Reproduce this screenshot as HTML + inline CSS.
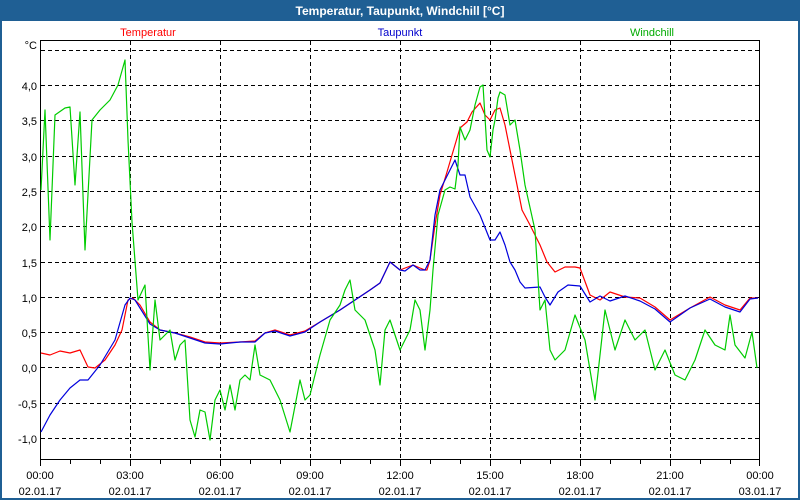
<!DOCTYPE html>
<html><head><meta charset="utf-8"><style>
html,body{margin:0;padding:0;background:#fff;}
svg{display:block;font-family:"Liberation Sans",Tahoma,sans-serif;}
</style></head><body>
<svg width="800" height="500" viewBox="0 0 800 500" xmlns="http://www.w3.org/2000/svg">
<rect x="0" y="0" width="800" height="500" fill="#1f5f94"/>
<rect x="2" y="21" width="796" height="477" fill="#fff"/>
<text x="400" y="15" fill="#fff" font-size="12" font-weight="bold" text-anchor="middle">Temperatur, Taupunkt, Windchill [°C]</text>
<text x="148" y="36" fill="#ff0000" font-size="11" text-anchor="middle">Temperatur</text>
<text x="400" y="36" fill="#0000cc" font-size="11" text-anchor="middle">Taupunkt</text>
<text x="652" y="36" fill="#00aa00" font-size="11" text-anchor="middle">Windchill</text>
<g stroke="#000" stroke-width="1" stroke-dasharray="4,3" fill="none">
<path d="M41 50.5H760M41 85.5H760M41 120.5H760M41 156.5H760M41 191.5H760M41 226.5H760M41 262.5H760M41 297.5H760M41 332.5H760M41 367.5H760M41 403.5H760M41 438.5H760"/>
<path d="M130.5 41V460M220.5 41V460M310.5 41V460M400.5 41V460M490.5 41V460M580.5 41V460M670.5 41V460"/>
</g>
<rect x="40.5" y="40.5" width="719" height="419" fill="none" stroke="#000"/>
<g stroke="#000"><path d="M70.5 460v4M100.5 460v4M130.5 460v6M160.5 460v4M190.5 460v4M220.5 460v6M250.5 460v4M280.5 460v4M310.5 460v6M340.5 460v4M370.5 460v4M400.5 460v6M430.5 460v4M460.5 460v4M490.5 460v6M520.5 460v4M550.5 460v4M580.5 460v6M610.5 460v4M640.5 460v4M670.5 460v6M700.5 460v4M730.5 460v4M40.5 460v6M759.5 460v6"/></g>
<g font-size="11" fill="#000" text-anchor="end">
<text x="37" y="49">°C</text>
<text x="37" y="90">4,0</text><text x="37" y="125">3,5</text><text x="37" y="161">3,0</text>
<text x="37" y="196">2,5</text><text x="37" y="231">2,0</text><text x="37" y="267">1,5</text>
<text x="37" y="302">1,0</text><text x="37" y="337">0,5</text><text x="37" y="372">0,0</text>
<text x="37" y="408">-0,5</text><text x="37" y="443">-1,0</text>
</g>
<g font-size="11" fill="#000" text-anchor="middle">
<text x="40" y="479">00:00</text><text x="40" y="495">02.01.17</text>
<text x="130" y="479">03:00</text><text x="130" y="495">02.01.17</text>
<text x="220" y="479">06:00</text><text x="220" y="495">02.01.17</text>
<text x="310" y="479">09:00</text><text x="310" y="495">02.01.17</text>
<text x="400" y="479">12:00</text><text x="400" y="495">02.01.17</text>
<text x="490" y="479">15:00</text><text x="490" y="495">02.01.17</text>
<text x="580" y="479">18:00</text><text x="580" y="495">02.01.17</text>
<text x="670" y="479">21:00</text><text x="670" y="495">02.01.17</text>
<text x="760" y="479">00:00</text><text x="760" y="495">03.01.17</text>
</g>
<g fill="none" stroke-width="1.2" stroke-linejoin="round">
<polyline stroke="#ff0000" points="41,353 50,355 60,351 70,353 80,350 88,367 95,368 105,360 115,345 122,330 128,300 133,298 140,305 150,322 160,330 175,333 190,337 205,342 220,343 240,342 255,341 265,333 275,330 290,335 305,331 320,322 340,310 355,300 370,290 380,283 390,262 400,270 413,265 420,268 425,270 427,270 430,260 435,225 440,195 447,172 452,155 460,128 467,122 472,112 480,103 485,115 490,120 495,110 500,108 505,125 510,150 515,175 522,210 530,225 540,245 547,262 555,272 565,267 575,267 580,268 590,295 600,300 610,292 625,297 640,298 655,307 670,320 690,308 710,297 725,305 740,310 750,298 758,298"/>
<polyline stroke="#0000dd" points="41,432 50,415 60,400 70,388 80,380 88,380 100,365 115,340 125,305 130,298 135,300 140,308 150,324 160,330 175,333 190,338 205,343 220,344 240,342 255,342 265,333 275,331 290,336 305,332 320,322 340,310 355,300 370,290 380,283 390,262 400,270 405,271 413,265 420,270 425,270 430,260 435,215 440,190 450,170 455,160 460,175 465,175 470,197 480,215 490,240 495,240 500,232 505,245 510,262 515,270 520,282 525,288 540,287 545,297 550,305 558,292 568,285 580,286 590,302 600,296 610,301 625,296 640,301 655,309 670,322 690,308 710,299 725,307 740,312 750,299 758,298"/>
<polyline stroke="#00cc00" points="41,190 45,110 50,240 55,115 65,108 70,107 75,185 80,112 85,250 92,120 100,110 110,100 118,85 125,60 128,140 132,222 138,300 145,285 150,370 155,300 160,340 170,330 175,360 180,345 185,340 190,420 195,437 200,410 205,412 210,440 215,400 220,390 225,410 230,385 235,410 240,380 245,375 250,380 255,345 260,375 270,380 280,400 290,432 300,380 305,400 310,395 320,355 330,320 340,305 345,290 350,280 355,310 365,320 375,350 380,385 385,330 390,320 400,350 410,330 415,300 420,310 425,350 430,310 433,270 438,215 445,190 450,187 455,189 458,165 460,127 465,140 470,130 475,105 480,87 483,85 487,150 490,157 493,130 495,120 498,98 500,92 505,95 510,125 515,120 520,150 525,185 535,230 540,310 545,300 550,350 555,360 565,350 575,315 585,340 595,400 605,310 615,350 625,320 635,340 645,330 655,370 665,350 675,375 685,380 695,360 705,330 715,345 725,350 730,315 735,345 745,358 752,332 757,368"/>
</g>
</svg>
</body></html>
